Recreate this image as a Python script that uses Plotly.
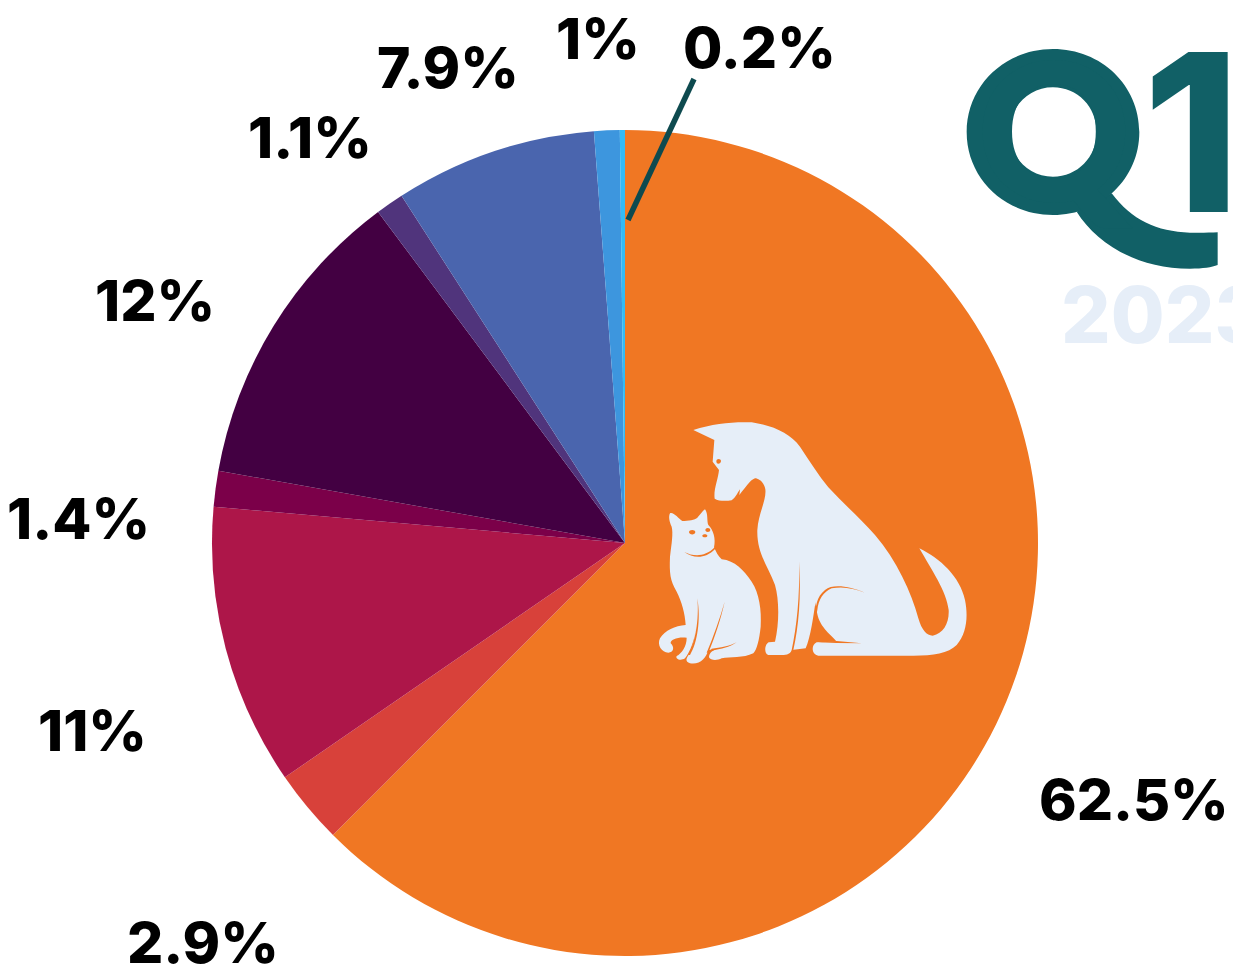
import re
import plotly.graph_objects as go

W, H = 1233, 972

# data
values = [62.5, 2.9, 11, 1.4, 12, 1.1, 7.9, 1, 0.2]
colors = ["#F07723", "#D8413A", "#AD1649", "#7B0049", "#430042",
          "#50347C", "#4A65AE", "#3D96DE", "#33BBF5"]
categories = ["Slice 1", "Slice 2", "Slice 3", "Slice 4", "Slice 5",
              "Slice 6", "Slice 7", "Slice 8", "Slice 9"]
label_px = [(1134, 799), (203, 942), (92, 730), (78, 518), (155, 300),
            (310, 137), (448, 67), (598, 39), (760, 47)]

TEAL = "#116066"
PALE = "#E6EEF8"
ORANGE = "#F07723"
FONT = "Inter"


def fx(x):
    return x / W


def fy(y):
    return 1 - y / H


def to_paper(path, ox=0.0, oy=0.0, k=1.0):
    """Convert an SVG path given in picture pixels into paper coordinates."""
    out, is_x = [], True
    for tok in re.findall(r"[MLCQZ]|-?\d+\.?\d*", path):
        if tok in "MLCQZ":
            out.append(tok)
            is_x = True
        else:
            v = float(tok)
            out.append(f"{fx(ox + v * k):.5f}" if is_x else f"{fy(oy + v * k):.5f}")
            is_x = not is_x
    return " ".join(out)


Z1 = dict(ox=640, oy=410, k=1 / 3)
Z2 = dict(ox=950, oy=30, k=1 / 3)

dog = ("M 160 60 C 220 40 280 35 335 37 C 400 47 450 70 480 110 C 510 155 535 195 565 232 "
       "C 610 280 660 325 705 375 C 770 450 815 550 835 625 C 845 660 860 677 878 677 "
       "C 910 670 928 640 926 600 C 920 545 875 480 838 415 C 900 445 960 500 975 570 "
       "C 985 620 980 670 950 705 C 925 730 880 737 820 737 L 535 737 C 515 735 512 705 530 697 "
       "L 590 695 C 570 670 535 650 530 600 C 528 590 525 580 527 572 "
       "C 520 620 512 680 497 715 L 455 720 C 450 735 435 735 420 735 L 385 735 "
       "C 370 730 375 700 387 697 L 405 695 C 418 640 418 570 405 525 "
       "C 385 470 350 430 352 360 C 355 310 380 270 376 238 C 372 215 355 205 345 205 "
       "C 330 210 315 235 298 255 L 300 238 C 292 250 285 265 275 271 "
       "C 255 274 235 273 224 266 C 220 240 235 205 237 180 L 218 155 L 223 90 Z")
cat = ("M 90 310 C 100 305 115 325 127 333 C 145 332 165 330 172 323 C 180 315 190 300 195 298 "
       "C 205 310 200 335 205 345 C 220 360 228 385 222 412 C 228 425 235 440 245 448 "
       "C 285 452 310 480 335 515 C 358 550 365 600 362 650 C 358 690 350 720 340 730 "
       "C 310 745 270 740 245 745 C 232 752 212 752 207 742 C 207 730 215 722 232 716 "
       "L 205 720 C 198 745 180 765 150 760 C 135 755 137 745 150 730 C 160 705 165 680 168 650 "
       "C 165 690 150 725 135 745 C 120 755 105 745 110 738 C 125 730 140 710 140 683 "
       "C 115 680 90 688 92 700 C 105 712 100 728 85 728 C 65 728 50 705 60 685 "
       "C 75 660 105 648 137 645 C 135 610 125 575 110 545 C 90 510 88 490 90 440 "
       "C 95 400 100 370 95 350 C 88 335 85 320 90 310 Z")
details = ["M 229 153 C 229 145 243 145 243 153 C 243 162 229 166 229 153 Z",
           "M 147 366 C 147 358 166 358 166 366 C 166 376 147 376 147 366 Z",
           "M 187 377 C 187 371 202 371 202 377 C 202 383 187 383 187 377 Z",
           "M 196 360 C 196 352 211 352 211 360 C 211 368 196 368 196 360 Z",
           "M 133 426 C 160 440 195 442 224 412 L 226 416 C 195 448 160 445 133 426 Z",
           "M 477 455 C 480 560 470 650 455 720 L 460 720 C 476 650 484 560 477 455 Z",
           "M 172 565 C 178 630 165 700 145 735 L 150 735 C 172 700 183 630 172 565 Z",
           "M 254 575 C 240 625 220 680 200 728 L 205 728 C 225 680 243 625 254 575 Z",
           "M 290 697 C 270 708 240 714 215 716 L 212 722 C 245 718 272 710 290 697 Z",
           "M 675 548 C 630 530 580 520 555 540 C 530 560 525 590 527 625 L 532 600 "
           "C 535 570 550 545 575 535 C 610 528 640 535 675 548 Z",
           "M 535 697 L 590 693 L 665 700 L 590 699 Z"]

tail = ("M 380 545 C 440 640 560 716 720 716 C 760 716 785 712 803 705 L 803 607 "
        "C 780 608 750 609 720 608 C 620 605 545 570 485 490 Z")


def oval(x0, y0, x1, y1, clockwise=True):
    """Closed Bezier oval; the winding direction decides whether it is a hole."""
    cx, cy, rx, ry = (x0 + x1) / 2, (y0 + y1) / 2, (x1 - x0) / 2, (y1 - y0) / 2
    k = 0.56
    if clockwise:
        return (f"M {cx} {y0} C {cx + k * rx} {y0} {x1} {cy - k * ry} {x1} {cy} "
                f"C {x1} {cy + k * ry} {cx + k * rx} {y1} {cx} {y1} "
                f"C {cx - k * rx} {y1} {x0} {cy + k * ry} {x0} {cy} "
                f"C {x0} {cy - k * ry} {cx - k * rx} {y0} {cx} {y0} Z ")
    return (f"M {cx} {y0} C {cx - k * rx} {y0} {x0} {cy - k * ry} {x0} {cy} "
            f"C {x0} {cy + k * ry} {cx - k * rx} {y1} {cx} {y1} "
            f"C {cx + k * rx} {y1} {x1} {cy + k * ry} {x1} {cy} "
            f"C {x1} {cy - k * ry} {cx + k * rx} {y0} {cx} {y0} Z")


ring = oval(50, 57, 568, 555) + oval(178, 172, 440, 440, clockwise=False)

shapes = []
for p in (dog, cat):
    shapes.append(dict(type="path", xref="paper", yref="paper", path=to_paper(p, **Z1),
                       fillcolor=PALE, line=dict(width=0), layer="above"))
for p in details:
    shapes.append(dict(type="path", xref="paper", yref="paper", path=to_paper(p, **Z1),
                       fillcolor=ORANGE, line=dict(width=0), layer="above"))
for p in (tail, ring):
    shapes.append(dict(type="path", xref="paper", yref="paper", path=to_paper(p, **Z2),
                       fillcolor=TEAL, line=dict(width=0), layer="above"))
shapes.append(dict(type="line", xref="paper", yref="paper",
                   x0=fx(694), y0=fy(79), x1=fx(628), y1=fy(220),
                   line=dict(color="#0E4A4F", width=5.5), layer="above"))

annotations = []
for v, (px, py) in zip(values, label_px):
    annotations.append(dict(text=f"{v}%", x=fx(px), y=fy(py), xref="paper", yref="paper",
                            showarrow=False, xanchor="center", yanchor="middle",
                            font=dict(family=FONT, size=57, color="#000000", weight=800)))
for txt, px, py, size, col, anchor, fam, wt in [
        ("Q", 1054, 127, 192, TEAL, "center", "Lato", 900),
        ("1", 1191, 132, 220, TEAL, "center", "Inter", 800),
        ("2023", 1059, 314, 78, PALE, "left", "Inter", 800)]:
    annotations.append(dict(text=txt, x=fx(px), y=fy(py), xref="paper", yref="paper",
                            showarrow=False, xanchor=anchor, yanchor="middle",
                            font=dict(family=fam, size=size, color=col, weight=wt)))

fig = go.Figure(go.Pie(values=values, labels=categories, sort=False, direction="clockwise",
                       rotation=0, textinfo="none", hoverinfo="label+percent",
                       marker=dict(colors=colors, line=dict(width=0)),
                       domain=dict(x=[fx(212), fx(1038)], y=[fy(956), fy(130)])))
fig.update_layout(width=W, height=H, margin=dict(l=0, r=0, t=0, b=0), showlegend=False,
                  paper_bgcolor="#FFFFFF", plot_bgcolor="#FFFFFF",
                  shapes=shapes, annotations=annotations)
fig.write_html("out.html", config=dict(displayModeBar=False),
               post_script="document.body.style.margin='0';document.documentElement.style.overflow='hidden';")
